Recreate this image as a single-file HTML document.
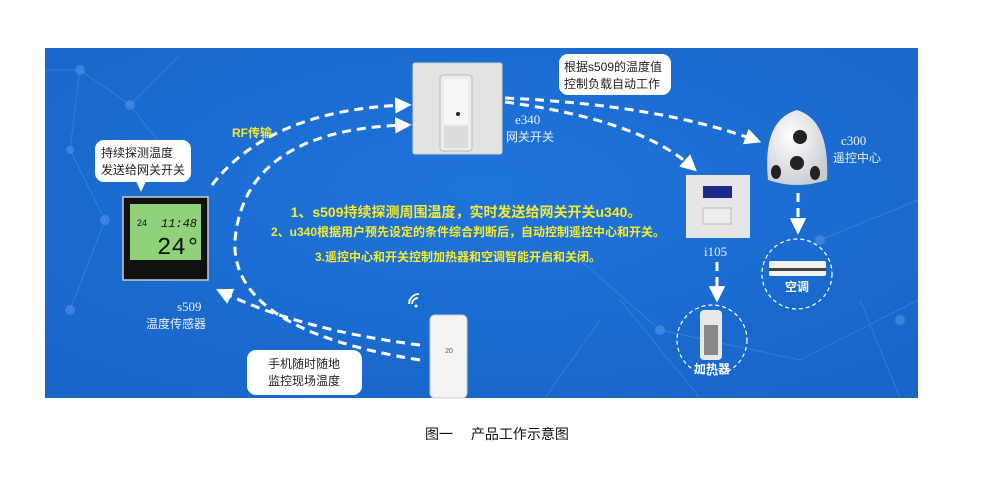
<!DOCTYPE html>
<html><head><meta charset="utf-8"><style>
html,body{margin:0;padding:0;background:#fff;width:987px;height:492px;overflow:hidden}
svg{display:block}
text{font-family:"Liberation Sans","Noto Sans CJK SC",sans-serif}
text.serif{font-family:"Liberation Serif","Noto Serif CJK SC",serif}
text.mono{font-family:"Liberation Mono",monospace}
</style></head><body>
<svg width="987" height="492" viewBox="0 0 987 492" xmlns="http://www.w3.org/2000/svg">
<defs>
<radialGradient id="bg" cx="0.5" cy="0.4" r="0.7"><stop offset="0" stop-color="#1f74dc"/><stop offset="1" stop-color="#1866c8"/></radialGradient>
<radialGradient id="dome" cx="0.4" cy="0.35" r="0.7"><stop offset="0" stop-color="#ffffff"/><stop offset="1" stop-color="#c9ccd2"/></radialGradient>
<marker id="ah" viewBox="0 0 10 10" refX="6" refY="5" markerWidth="5.5" markerHeight="5.5" orient="auto" markerUnits="strokeWidth"><path d="M0,0 L10,5 L0,10 z" fill="#fff"/></marker>
</defs>
<rect x="45" y="48" width="873" height="350" fill="url(#bg)"/>
<g stroke="#4a8fe6" stroke-width="1" opacity="0.5" fill="none">
<path d="M45,70 L80,70 L130,105 L180,55 M80,70 L70,150 L105,220 L70,310 M130,105 L180,170 M580,260 L660,330 L800,360 L918,300 M620,300 L700,398 M820,240 L918,200 M860,300 L900,398 M600,320 L545,398"/>
</g>
<g fill="#5b9ae8" opacity="0.5"><circle cx="80" cy="70" r="5"/><circle cx="130" cy="105" r="5"/><circle cx="70" cy="150" r="4"/><circle cx="105" cy="220" r="5"/><circle cx="70" cy="310" r="5"/><circle cx="660" cy="330" r="5"/><circle cx="820" cy="240" r="5"/><circle cx="900" cy="320" r="5"/></g>

<g stroke="#fff" stroke-width="3" stroke-dasharray="9,6" fill="none">
<path d="M212,185 Q270,110 405,105" marker-end="url(#ah)"/>
<path d="M420,360 Q230,330 235,240 Q245,130 405,125" marker-end="url(#ah)"/>
<path d="M420,345 Q300,330 222,292" marker-end="url(#ah)"/>
<path d="M505,98 Q660,105 755,140" marker-end="url(#ah)"/>
<path d="M505,102 Q640,120 692,167" marker-end="url(#ah)"/>
<path d="M798,193 L798,228" marker-end="url(#ah)"/>
<path d="M717,262 L717,296" marker-end="url(#ah)"/>
</g>

<rect x="413" y="63" width="89" height="91" rx="2" fill="#e3e3e3" stroke="#cfcfcf"/>
<rect x="440" y="75" width="32" height="76" rx="3" fill="#ececec" stroke="#bbb"/>
<rect x="444" y="79" width="24" height="45" fill="#f6f6f6"/>
<circle cx="458" cy="114" r="2" fill="#222"/>
<rect x="444" y="126" width="24" height="22" fill="#dcdcdc"/>
<text x="515" y="124" font-size="13" fill="#e8eefa" class="serif">e340</text>
<text x="506" y="141" font-size="12" fill="#e8eefa">网关开关</text>

<rect x="559" y="54" width="112" height="41" rx="9" fill="#fff"/>
<text x="564" y="71" font-size="12" fill="#222">根据s509的温度值</text>
<text x="564" y="88" font-size="12" fill="#222">控制负载自动工作</text>

<path d="M768,180 Q762,120 797,110 Q830,120 827,180 Q797,190 768,180 z" fill="url(#dome)"/>
<circle cx="800" cy="137" r="7" fill="#222"/><circle cx="797" cy="163" r="7" fill="#222"/>
<ellipse cx="776" cy="172" rx="5" ry="7" fill="#222"/><ellipse cx="815" cy="173" rx="5" ry="7" fill="#222"/>
<text x="841" y="145" font-size="13" fill="#e8eefa" class="serif">c300</text>
<text x="833" y="162" font-size="12" fill="#e8eefa">遥控中心</text>

<rect x="686" y="175" width="64" height="63" fill="#e6e6e6"/>
<rect x="703" y="186" width="29" height="12" fill="#1c2a8a"/>
<rect x="703" y="208" width="28" height="16" fill="#eee" stroke="#bbb"/>
<text x="704" y="256" font-size="13" fill="#e8eefa" class="serif">i105</text>

<circle cx="797" cy="274" r="35" fill="none" stroke="#fff" stroke-width="1.2" stroke-dasharray="4,3"/>
<rect x="769" y="261" width="57" height="15" rx="2" fill="#f2f2f2"/>
<rect x="769" y="268" width="57" height="3" fill="#444"/>
<text x="797" y="291" font-size="12" font-weight="bold" fill="#fff" text-anchor="middle">空调</text>

<circle cx="712" cy="340" r="35" fill="none" stroke="#fff" stroke-width="1.2" stroke-dasharray="4,3"/>
<rect x="700" y="310" width="22" height="50" rx="4" fill="#e8e8e8"/>
<rect x="704" y="325" width="14" height="30" fill="#888"/>
<text x="712" y="373" font-size="12" font-weight="bold" fill="#fff" text-anchor="middle">加热器</text>

<rect x="123" y="197" width="85" height="83" fill="#111" stroke="#ccc" stroke-width="1.5"/>
<rect x="130" y="204" width="71" height="56" fill="#8fd27a"/>
<text x="161" y="227" font-size="12" fill="#111" class="mono" font-style="italic">11:48</text>
<text x="157" y="254" font-size="24" fill="#111" class="mono">24°</text>
<text x="137" y="226" font-size="9" fill="#111">24</text>
<text x="177" y="311" font-size="13" fill="#e8eefa" class="serif">s509</text>
<text x="146" y="328" font-size="12" fill="#e8eefa">温度传感器</text>

<rect x="95" y="140" width="96" height="42" rx="9" fill="#fff"/>
<path d="M136,181 L141,192 L146,181 z" fill="#fff"/>
<text x="101" y="157" font-size="12" fill="#222">持续探测温度</text>
<text x="101" y="174" font-size="12" fill="#222">发送给网关开关</text>

<text x="232" y="137" font-size="12" font-weight="bold" fill="#f2e83a">RF传输</text>

<g fill="#f5ec2e" font-weight="bold" text-anchor="middle">
<text x="466" y="217" font-size="14">1、s509持续探测周围温度，实时发送给网关开关u340。</text>
<text x="468" y="236" font-size="12">2、u340根据用户预先设定的条件综合判断后，自动控制遥控中心和开关。</text>
<text x="458" y="261" font-size="12">3.遥控中心和开关控制加热器和空调智能开启和关闭。</text>
</g>

<rect x="430" y="315" width="37" height="83" rx="5" fill="#f4f4f4" stroke="#ccc"/>
<text x="449" y="353" font-size="7" fill="#555" text-anchor="middle">20</text>
<g fill="none" stroke="#fff" stroke-width="1.8"><path d="M412,304 a6,6 0 0 1 6,-6"/><path d="M409,304 a10,10 0 0 1 10,-10"/></g>
<circle cx="416" cy="306" r="1.5" fill="#fff"/>

<rect x="247" y="350" width="115" height="45" rx="9" fill="#fff"/>
<text x="268" y="368" font-size="12" fill="#222">手机随时随地</text>
<text x="268" y="385" font-size="12" fill="#222">监控现场温度</text>

<text x="425" y="439" font-size="14" fill="#111">图一　 产品工作示意图</text>
</svg>
</body></html>
